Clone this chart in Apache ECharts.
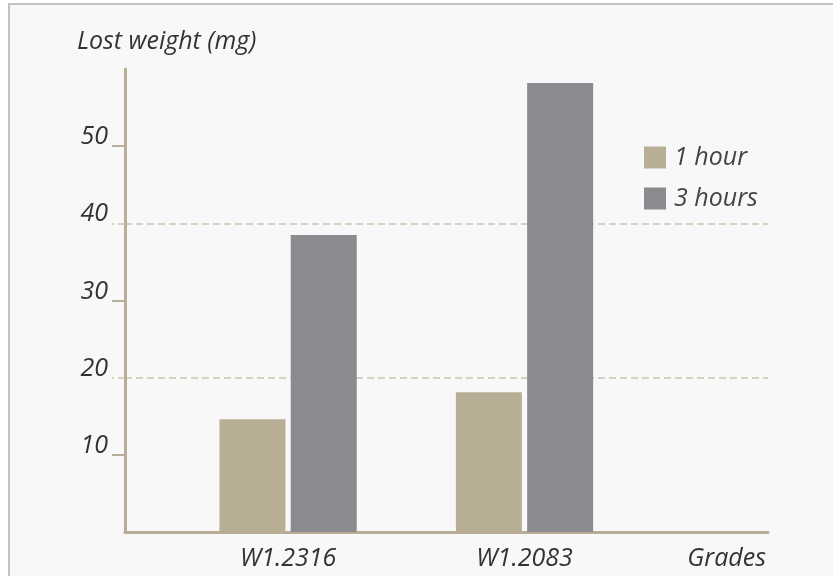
<!DOCTYPE html>
<html>
<head>
<meta charset="utf-8">
<script src="https://cdn.jsdelivr.net/npm/echarts@6/dist/echarts.min.js"></script>
<style>
html,body{margin:0;padding:0;background:#fff;}
#main{width:833px;height:576px;
  background:
    linear-gradient(#c3c3c3,#c3c3c3) 8px 3px / 100% 2px no-repeat,
    linear-gradient(#c3c3c3,#c3c3c3) 8px 3px / 2px 100% no-repeat,
    linear-gradient(#f8f8f8,#f8f8f8) 10px 5px / 100% 100% no-repeat,
    #fff;}
</style>
</head>
<body>
<div id="main"></div>
<script>
// data
var grades = ['W1.2316', 'W1.2083'];
var gradePos = [1, 2];
var hour1 = [14.6, 18.1];
var hour3 = [38.5, 58.2];
var yLabels = [10, 20, 30, 40, 50];
var ySolidTicks = [10, 30, 50];
var yDashTicks = [20, 40];

var axisColor = '#b8ae96';
var dashColor = '#cdc4ae';
var txt = {fontFamily: 'Open Sans', fontStyle: 'italic', fontSize: 25, color: '#333'};

var myChart = echarts.init(document.getElementById('main'));

function pairs(vals) {
    return vals.map(function (v, i) { return [gradePos[i], v]; });
}

var option = {
    backgroundColor: 'transparent',
    animation: false,
    title: {
        text: 'Lost weight (mg)',
        left: 77, top: 29, padding: 0,
        textStyle: {fontFamily: 'Open Sans', fontStyle: 'italic', fontWeight: 'normal', fontSize: 25, color: '#333'}
    },
    legend: {
        orient: 'vertical',
        left: 644, top: 145, padding: 0,
        itemWidth: 22, itemHeight: 22, itemGap: 16,
        icon: 'rect',
        data: ['1 hour', '3 hours'],
        textStyle: {fontFamily: 'Open Sans', fontStyle: 'italic', fontSize: 25, color: '#444', padding: [0, 0, 0, 3]}
    },
    grid: {left: 125, right: 65, top: 69, bottom: 44, containLabel: false},
    xAxis: {
        type: 'value',
        min: 0.31, max: 3.03,
        name: 'Grades',
        nameLocation: 'end',
        nameGap: -2,
        nameTextStyle: {fontFamily: 'Open Sans', fontStyle: 'italic', fontSize: 25, color: '#333',
            align: 'right', verticalAlign: 'top', padding: [14, 0, 0, 0]},
        axisLine: {lineStyle: {color: axisColor, width: 3}},
        axisTick: {show: false},
        splitLine: {show: false},
        axisLabel: Object.assign({
            customValues: gradePos,
            margin: 14,
            formatter: function (v) { return grades[gradePos.indexOf(v)] || ''; }
        }, txt)
    },
    yAxis: [{
        type: 'value',
        position: 'left',
        min: 0, max: 60, interval: 10,
        axisLine: {show: true, lineStyle: {color: axisColor, width: 3}},
        axisTick: {show: true, customValues: ySolidTicks, length: 13, lineStyle: {color: axisColor, width: 2}},
        splitLine: {show: false},
        axisLabel: Object.assign({customValues: yLabels, margin: 17, verticalAlign: 'bottom', lineHeight: 18}, txt)
    }, {
        type: 'value',
        position: 'left',
        min: 0, max: 60, interval: 20,
        axisLine: {show: false},
        axisLabel: {show: false},
        axisTick: {show: true, customValues: yDashTicks, length: 13,
            lineStyle: {color: dashColor, width: 1.5, type: [7, 4]}},
        splitLine: {show: true, lineStyle: {color: dashColor, width: 1.5, type: [7, 4]}}
    }],
    series: [{
        name: '1 hour',
        type: 'bar',
        barWidth: 66,
        barGap: '8%',
        itemStyle: {color: '#b8ae96'},
        data: pairs(hour1)
    }, {
        name: '3 hours',
        type: 'bar',
        barWidth: 66,
        barGap: '8%',
        itemStyle: {color: '#8a8b8f'},
        data: pairs(hour3)
    }]
};
myChart.setOption(option);
</script>
</body>
</html>
